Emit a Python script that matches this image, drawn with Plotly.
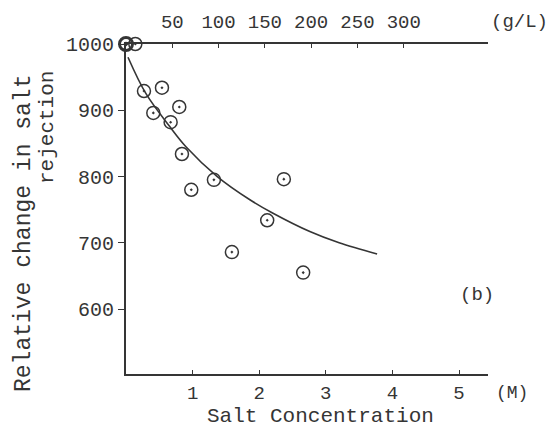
import plotly.graph_objects as go

# Measured points (salt concentration in M, relative change in salt rejection)
conc_m = [0.0, 0.14, 0.27, 0.54, 0.41, 0.80, 0.67, 0.84, 1.32, 0.98, 2.37, 2.12, 1.59, 2.66]
rejection = [1000, 1000, 929, 934, 896, 905, 882, 834, 795, 780, 796, 734, 686, 655]

# Fitted curve
curve_x = [0.03, 0.30, 0.66, 0.90, 1.37, 1.86, 2.20, 2.76, 3.20, 3.77]
curve_y = [980, 925, 875, 845, 800, 765, 745, 717, 700, 683]

# Axis ticks
bottom_ticks = [1, 2, 3, 4, 5]
left_ticks = [600, 700, 800, 900, 1000]
top_ticks = [50, 100, 150, 200, 250, 300]

FONT = "Liberation Mono"
INK = "#353535"

# page offset from the browser's default body margin
OFF = 8
L, R, T, B = 126 - OFF, 488 - OFF, 44 - OFF, 374 - OFF
W, H = 557, 430
PW, PH = R - L, B - T


def px(xp):
    return (xp - OFF - L) / PW


def py(yp):
    return (B - (yp - OFF)) / PH


fig = go.Figure()
fig.add_trace(go.Scatter(
    x=curve_x, y=curve_y, mode="lines", line=dict(color=INK, width=1.6, shape="spline"),
    showlegend=False, hoverinfo="skip"))
fig.add_trace(go.Scatter(
    x=conc_m, y=rejection, mode="markers", cliponaxis=False,
    marker=dict(symbol="circle-open-dot", size=13, color=INK,
                line=dict(color=INK, width=[3] + [1.5] * (len(conc_m) - 1))),
    showlegend=False))
# invisible trace to activate top axis
fig.add_trace(go.Scatter(x=[top_ticks[0]], y=[1000], xaxis="x2", mode="markers",
                         marker=dict(opacity=0), showlegend=False, hoverinfo="skip"))

fig.update_layout(
    width=W, height=H,
    margin=dict(l=L, r=W - R, t=T, b=H - B, autoexpand=False),
    paper_bgcolor="white", plot_bgcolor="white",
    font=dict(family=FONT, color=INK, size=21),
    xaxis=dict(range=[0, 5.435], tickvals=bottom_ticks, showgrid=False, zeroline=False,
               showline=True, linecolor=INK, linewidth=2, ticks="inside", ticklen=4,
               tickcolor=INK, tickfont=dict(size=19), automargin=False),
    xaxis2=dict(overlaying="x", side="top", range=[0, 391], tickvals=top_ticks,
                showgrid=False, zeroline=False, showline=True, linecolor=INK, linewidth=2,
                ticks="inside", ticklen=4, tickcolor=INK, tickfont=dict(size=19),
                ticklabelstandoff=6, automargin=False),
    yaxis=dict(range=[502, 1000], tickvals=left_ticks, showgrid=False, zeroline=False,
               showline=True, linecolor=INK, linewidth=2, ticks="outside", ticklen=6,
               tickcolor=INK, tickfont=dict(size=20), automargin=False),
    annotations=[
        dict(text="Relative change in salt", textangle=-90, xref="paper", yref="paper",
             x=px(24), y=py(234), showarrow=False,
             font=dict(size=23), xanchor="center", yanchor="middle"),
        dict(text="rejection", textangle=-90, xref="paper", yref="paper",
             x=px(48), y=py(128), showarrow=False,
             font=dict(size=21), xanchor="center", yanchor="middle"),
        dict(text="Salt Concentration", xref="paper", yref="paper",
             x=px(320), y=py(416), showarrow=False,
             font=dict(size=21), xanchor="center", yanchor="middle"),
        dict(text="(M)", xref="paper", yref="paper",
             x=px(512), y=py(393), showarrow=False,
             font=dict(size=18), xanchor="center", yanchor="middle"),
        dict(text="(g/L)", xref="paper", yref="paper",
             x=px(519), y=py(22), showarrow=False,
             font=dict(size=19), xanchor="center", yanchor="middle"),
        dict(text="(b)", xref="paper", yref="paper",
             x=px(477), y=py(295), showarrow=False,
             font=dict(size=19), xanchor="center", yanchor="middle"),
    ],
)

fig.write_html("out.html")
